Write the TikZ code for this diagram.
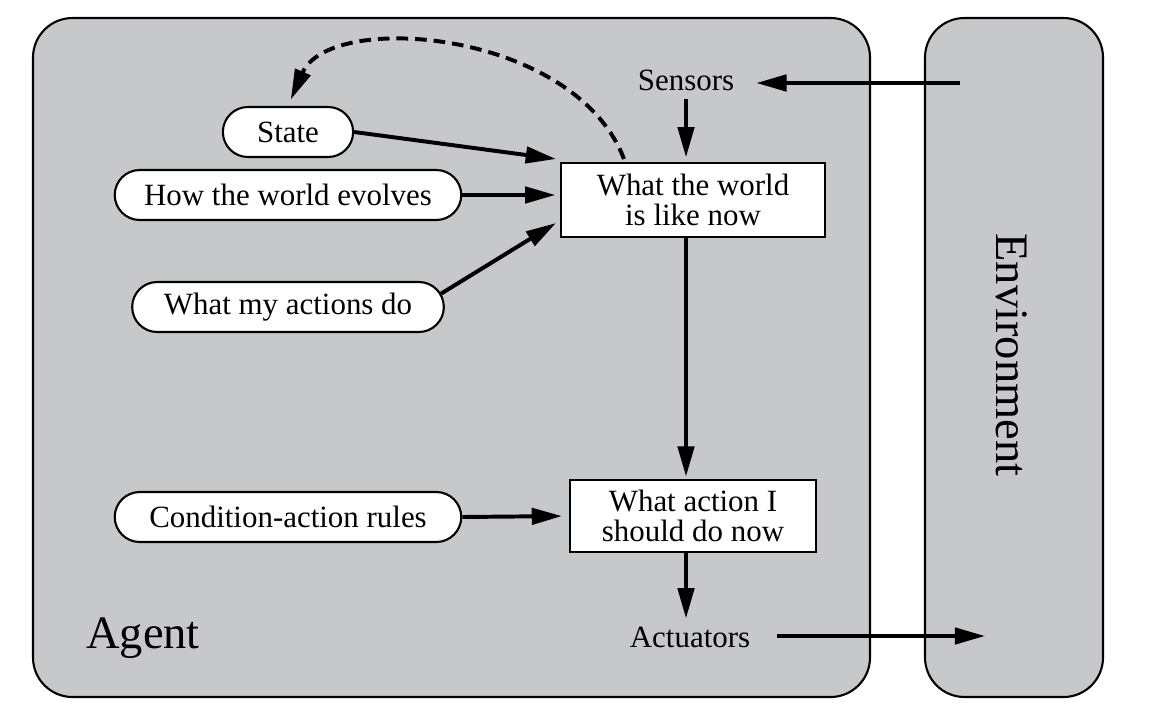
\documentclass[tikz,border=0pt]{standalone}
\usepackage{fontspec}
\setmainfont{Liberation Serif}
\usetikzlibrary{arrows.meta,positioning,shapes.misc,calc}
\definecolor{ag}{HTML}{C7C8CA}

\begin{document}
\begin{tikzpicture}[x=0.43pt,y=-0.43pt,
  font=\fontsize{13.3}{12.8}\selectfont,
  shell/.style={draw,fill=ag,line width=0.9pt,rounded corners=17pt},
  pill/.style={draw,fill=white,rounded rectangle,line width=0.9pt,minimum height=21.5pt,inner sep=2pt},
  box/.style={draw,fill=white,line width=0.9pt,align=center,inner sep=2pt},
  flow/.style={-{Triangle[length=13pt,width=7pt]},line width=1.7pt}]
\useasboundingbox (0,0) rectangle (1162,712);
% agent and environment
\draw[shell] (33,18) rectangle (870,697);
\draw[shell] (925,18) rectangle (1103,697);
\node[font=\fontsize{20}{22}\selectfont] (agent) at (143,638) {Agent};
\node[font=\fontsize{20}{22}\selectfont,rotate=-90] (env) at (1012,355) {Environment};
% knowledge
\node[pill,minimum width=60pt] (state) at (288,132) {State};
\node[pill,minimum width=153pt] (evolves) at (288,195) {How the world evolves};
\node[pill,minimum width=138pt] (actions) at (288,307) {What my actions do};
\node[pill,minimum width=153pt] (rules) at (288,517) {Condition-action rules};
% boxes
\node[box,minimum width=113.5pt,minimum height=31.8pt] (world) at (693,200) {What the world\\is like now};
\node[box,minimum width=105.8pt,minimum height=31pt] (action) at (693,516) {What action I\\should do now};
\node (sensors) at (686,80) {Sensors};
\node (actuators) at (690,637) {Actuators};
\coordinate (envin) at (960,83);
\coordinate (envout) at (985,636);
% arrows
\draw[flow,shorten >=6pt] (envin) -- (sensors.east |- envin);
\draw[flow,shorten >=2pt] (sensors.south) -- (sensors.south |- world.north);
\draw[flow,shorten >=1pt] (sensors |- world.south) -- (sensors |- action.north);
\draw[flow] (sensors |- action.south) -- (sensors |- actuators.north);
\draw[flow,shorten <=8pt] (actuators.east |- envout) -- (envout);
\draw[flow] (state.east) -- ($(world.north west)+(-4,-3)$);
\draw[flow,shorten >=2pt] (evolves.east) -- (evolves.east -| world.west);
\draw[flow] (actions.5) -- ($(world.south west)+(-4,-15)$);
\draw[flow,shorten >=3pt] (rules.east) -- (action.west);
\draw[flow,dash pattern=on 5pt off 3pt,shorten >=3pt] ($(world.north west)+(64,-3)$) .. controls (575,30) and (330,10) .. (state.north);
\end{tikzpicture}
\end{document}
